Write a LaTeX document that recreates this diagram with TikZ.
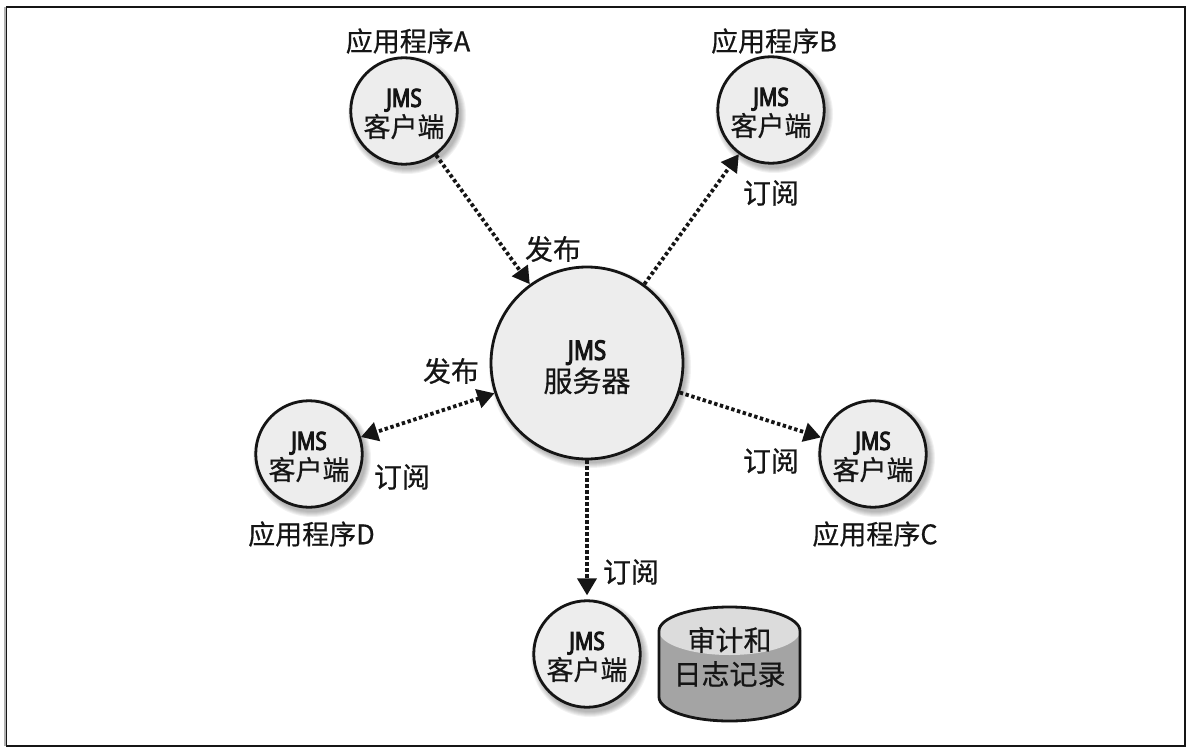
\documentclass[tikz,border=0pt]{standalone}
\usepackage{fontspec}
\setmainfont{Noto Sans CJK SC}[FakeBold=0.5]
\newfontfamily\jmsfont[FakeStretch=0.82,FakeBold=4]{Noto Sans}
\usetikzlibrary{arrows.meta}
\definecolor{ink}{HTML}{151515}
\definecolor{disc}{HTML}{EDEDED}
\definecolor{drumtop}{HTML}{DCDCDC}
\definecolor{drumside}{HTML}{A4A4A4}
\tikzset{
  x=1pt,y=-1pt,
  client/.style={circle,draw=ink,line width=2.8pt,fill=disc,minimum size=106.5pt,inner sep=0pt,align=center,font=\fontsize{27}{29}\selectfont,text=ink},
  server/.style={client,minimum size=192pt,font=\fontsize{29}{33}\selectfont},
  lbl/.style={inner sep=0pt,font=\fontsize{27}{30}\selectfont,text=ink},
  duo/.style={lbl,font=\fontsize{28}{30}\selectfont},
  flow/.style={draw=ink,line width=3.8pt,dash pattern=on 3.4pt off 2.6pt,-{Triangle[length=17pt,width=19pt]}},
  flowboth/.style={flow,{Triangle[length=17pt,width=19pt]}-{Triangle[length=17pt,width=19pt]}},
}
\newcommand{\softshade}[3]{%
  \foreach \k in {1,...,6}{
    \fill[black,opacity=0.05] (#1+3,#2+4) circle[radius=#3+6-\k];
  }}
\newcommand{\jms}{\rule{0pt}{24pt}{\jmsfont\fontsize{25}{28}\selectfont JMS}}
\begin{document}
\begin{tikzpicture}
\useasboundingbox (0,0) rectangle (1196,754);
\fill[white] (0,0) rectangle (1196,754);
\draw[black!30,line width=1.5pt] (5,7) -- (5,746);
\draw[ink,line width=1.6pt] (6.5,7) rectangle (1185,746);

\softshade{404}{111}{54}
\softshade{771}{110}{54}
\softshade{309}{454}{54}
\softshade{873}{454}{54}
\softshade{587}{654}{54}
\softshade{587}{363}{96}

\node[client] (a) at (404,111) {\jms\\[1pt]客户端};
\node[client] (b) at (771,110) {\jms\\[1pt]客户端};
\node[client] (d) at (309,454) {\jms\\[1pt]客户端};
\node[client] (c) at (873,454) {\jms\\[1pt]客户端};
\node[client] (e) at (587,654) {\jms\\[1pt]客户端};
\node[server] (s) at (587,363) {\rule{0pt}{28pt}{\jmsfont\fontsize{27}{30}\selectfont JMS}\\[-1pt]服务器};

\draw[flow] (a) -- (s);
\draw[flow] (s) -- (b);
\draw[flowboth] (s) -- (d);
\draw[flow] (s) -- (c);
\draw[flow,shorten >=4pt] (s) -- (e);

\fill[drumside] (659,631) -- (659,697) .. controls (659,710.25) and (690.5,721) .. (729.5,721) .. controls (768.5,721) and (800,710.25) .. (800,697) -- (800,631) .. controls (800,617.75) and (768.5,607) .. (729.5,607) .. controls (690.5,607) and (659,617.75) .. (659,631) -- cycle;
\fill[drumtop] (659,631) .. controls (659,644.25) and (690.5,655) .. (729.5,655) .. controls (768.5,655) and (800,644.25) .. (800,631) .. controls (800,617.75) and (768.5,607) .. (729.5,607) .. controls (690.5,607) and (659,617.75) .. (659,631) -- cycle;
\draw[ink,line width=2.8pt] (659,631) -- (659,697) .. controls (659,710.25) and (690.5,721) .. (729.5,721) .. controls (768.5,721) and (800,710.25) .. (800,697) -- (800,631) .. controls (800,617.75) and (768.5,607) .. (729.5,607) .. controls (690.5,607) and (659,617.75) .. (659,631) -- cycle;
\node[lbl] (drumtext) at (729.5,657) [align=center,font=\fontsize{28}{34}\selectfont] {审计和\\日志记录};

\node[lbl] (la) at (408,41) {应用程序A};
\node[lbl] (lb) at (774,41) {应用程序B};
\node[lbl] (ld) at (311.5,534) {应用程序D};
\node[lbl] (lc) at (875,534) {应用程序C};
\node[duo] (p1) at (553,249) {发布};
\node[duo] (p2) at (451,371) {发布};
\node[duo] (s1) at (771,193) {订阅};
\node[duo] (s2) at (402,477) {订阅};
\node[duo] (s3) at (771,461) {订阅};
\node[duo] (s4) at (631,572) {订阅};
\end{tikzpicture}
\end{document}
